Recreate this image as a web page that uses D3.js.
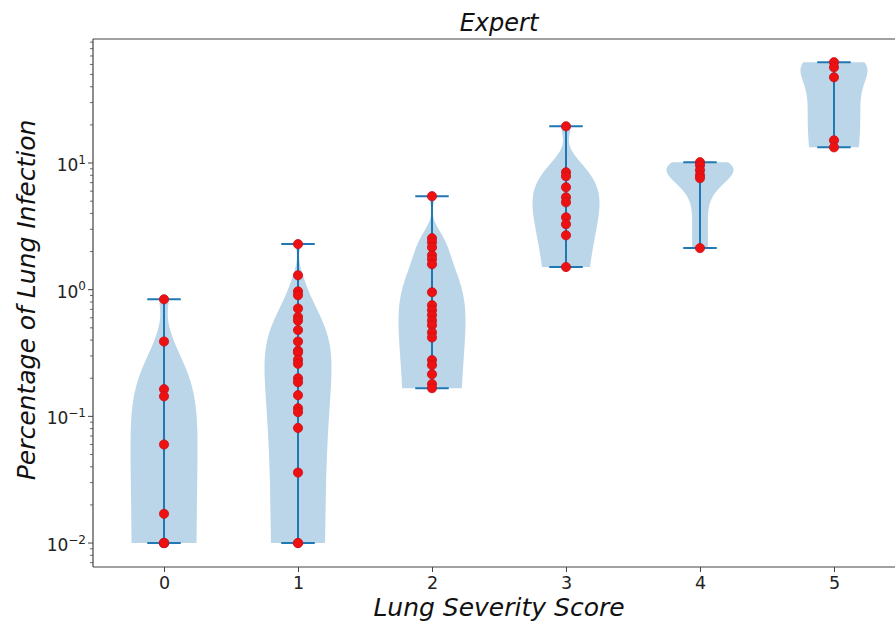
<!DOCTYPE html>
<html>
<head>
<meta charset="utf-8">
<script src="https://cdn.jsdelivr.net/npm/d3@7"></script>
<style>
  html, body { margin: 0; padding: 0; background: #fff; }
  svg { display: block; font-family: "DejaVu Sans", sans-serif; }
</style>
</head>
<body>
<svg id="chart" width="895" height="623"></svg>
<script>
// ---- Data (several patients sit on the 0.01 floor) ----
const scoreCategories = [0, 1, 2, 3, 4, 5];
const infection0 = [0.84, 0.39, 0.164, 0.144, 0.06, 0.017, 0.01, 0.01, 0.01, 0.01];
const infection1 = [2.29, 1.30, 0.97, 0.905, 0.71, 0.61, 0.57, 0.48, 0.39, 0.33, 0.32, 0.28, 0.26,
                    0.20, 0.186, 0.147, 0.116, 0.108, 0.081, 0.036, 0.01, 0.01];
const infection2 = [5.47, 2.55, 2.37, 2.16, 1.87, 1.74, 1.59, 0.955, 0.755, 0.69, 0.63, 0.57, 0.525,
                    0.46, 0.42, 0.278, 0.254, 0.215, 0.18, 0.167];
const infection3 = [19.5, 8.46, 7.87, 6.44, 5.37, 4.9, 3.73, 3.29, 2.69, 1.51];
const infection4 = [10.15, 9.6, 8.77, 8.0, 7.6, 2.13];
const infection5 = [62.5, 57, 47.5, 15.1, 13.3];
const yTickExponents = [-2, -1, 0, 1];
const xTickLabels = ["0", "1", "2", "3", "4", "5"];
const titleText = "Expert";
const xLabelText = "Lung Severity Score";
const yLabelText = "Percentage of Lung Infection";

const groups = [infection0, infection1, infection2, infection3, infection4, infection5];

(function () {
const svg = d3.select("#chart");
const mLeft = 93, mRight = 905, mTop = 39, mBottom = 567;

const x = d3.scaleLinear().domain([-0.53, 5.53]).range([mLeft, mRight]);
const y = d3.scaleLog().domain([0.00647, 95.3]).range([mBottom, mTop]);

const blue = "#1f77b4";

// gaussian KDE like scipy (Scott's rule)
function kde(values, pts) {
  const n = values.length;
  const mean = d3.mean(values);
  const variance = d3.sum(values, v => (v - mean) * (v - mean)) / (n - 1);
  const bw = Math.sqrt(variance) * Math.pow(n, -1 / 5);
  return pts.map(p => {
    let s = 0;
    for (const v of values) { const z = (p - v) / bw; s += Math.exp(-0.5 * z * z); }
    return s / (n * bw * Math.sqrt(2 * Math.PI));
  });
}

svg.append("clipPath").attr("id", "plotClip")
  .append("rect").attr("x", mLeft).attr("y", mTop).attr("width", mRight - mLeft).attr("height", mBottom - mTop);

const plot = svg.append("g").attr("clip-path", "url(#plotClip)");
const halfWidth = 0.25, capHalf = 0.125;

groups.forEach((vals, i) => {
  const pos = scoreCategories[i];
  const lo = d3.min(vals), hi = d3.max(vals);
  const pts = d3.range(100).map(k => lo + (hi - lo) * k / 99);
  const dens = kde(vals, pts);
  const dmax = d3.max(dens);
  const rows = pts.map((p, k) => ({ v: p, w: dens[k] / dmax * halfWidth }));
  const area = d3.area()
    .y(d => y(d.v))
    .x0(d => x(pos - d.w))
    .x1(d => x(pos + d.w));
  plot.append("path").attr("d", area(rows))
    .attr("fill", blue).attr("fill-opacity", 0.3).attr("stroke", "none");

  plot.append("line")
    .attr("x1", x(pos)).attr("x2", x(pos)).attr("y1", y(lo)).attr("y2", y(hi))
    .attr("stroke", blue).attr("stroke-width", 2);
  [lo, hi].forEach(v => {
    plot.append("line")
      .attr("x1", x(pos - capHalf)).attr("x2", x(pos + capHalf))
      .attr("y1", y(v)).attr("y2", y(v))
      .attr("stroke", blue).attr("stroke-width", 2);
  });
});

groups.forEach((vals, i) => {
  const pos = scoreCategories[i];
  plot.selectAll(null).data(vals).enter().append("circle")
    .attr("cx", x(pos)).attr("cy", d => y(d)).attr("r", 4.6)
    .attr("fill", "#ee1111").attr("stroke", "#c8101a").attr("stroke-width", 0.8);
});

// ---- Axes ----
const spine = "#444";
svg.append("line").attr("x1", mLeft).attr("x2", mLeft).attr("y1", mTop).attr("y2", mBottom)
  .attr("stroke", spine).attr("stroke-width", 1.2);
svg.append("line").attr("x1", mLeft).attr("x2", mRight).attr("y1", mBottom).attr("y2", mBottom)
  .attr("stroke", spine).attr("stroke-width", 1.2);
svg.append("line").attr("x1", mLeft).attr("x2", mRight).attr("y1", mTop).attr("y2", mTop)
  .attr("stroke", spine).attr("stroke-width", 1.2);

const xAxis = d3.axisBottom(x).tickValues(scoreCategories)
  .tickFormat((d, i) => xTickLabels[i]).tickSize(5).tickPadding(5);
const gx = svg.append("g").attr("transform", `translate(0,${mBottom})`).call(xAxis);
gx.select(".domain").remove();
gx.selectAll("line").attr("stroke", spine);
gx.selectAll("text").attr("font-size", 17.5).attr("fill", "#222")
  .attr("font-family", "DejaVu Sans");

const minorVals = [];
for (let e = -3; e <= 1; e++) for (let m = 2; m <= 9; m++) {
  const v = m * Math.pow(10, e);
  if (v >= y.domain()[0] && v <= y.domain()[1]) minorVals.push(v);
}
svg.append("g").selectAll("line").data(minorVals).enter().append("line")
  .attr("x1", mLeft - 3).attr("x2", mLeft).attr("y1", d => y(d)).attr("y2", d => y(d))
  .attr("stroke", spine).attr("stroke-width", 0.8);

const gy = svg.append("g");
gy.selectAll("line").data(yTickExponents).enter().append("line")
  .attr("x1", mLeft - 5).attr("x2", mLeft).attr("y1", d => y(Math.pow(10, d))).attr("y2", d => y(Math.pow(10, d)))
  .attr("stroke", spine).attr("stroke-width", 1);
const ylab = gy.selectAll("text").data(yTickExponents).enter().append("text")
  .attr("x", mLeft - 7).attr("y", d => y(Math.pow(10, d)) + 8)
  .attr("text-anchor", "end").attr("fill", "#222").attr("font-size", 17);
ylab.append("tspan").text("10");
ylab.append("tspan").attr("dy", -7.5).attr("font-size", 12)
  .text(d => (d < 0 ? "\u2212" + Math.abs(d) : String(d)));

svg.append("text").attr("x", (mLeft + mRight) / 2).attr("y", 31)
  .attr("text-anchor", "middle").attr("font-style", "italic").attr("font-size", 24)
  .attr("fill", "#111").text(titleText);
svg.append("text").attr("x", (mLeft + mRight) / 2).attr("y", 616)
  .attr("text-anchor", "middle").attr("font-style", "italic").attr("font-size", 25)
  .attr("fill", "#111").text(xLabelText);
svg.append("text").attr("transform", `translate(35,300) rotate(-90)`)
  .attr("text-anchor", "middle").attr("font-style", "italic").attr("font-size", 25)
  .attr("fill", "#111").text(yLabelText);
})();
</script>
</body>
</html>
